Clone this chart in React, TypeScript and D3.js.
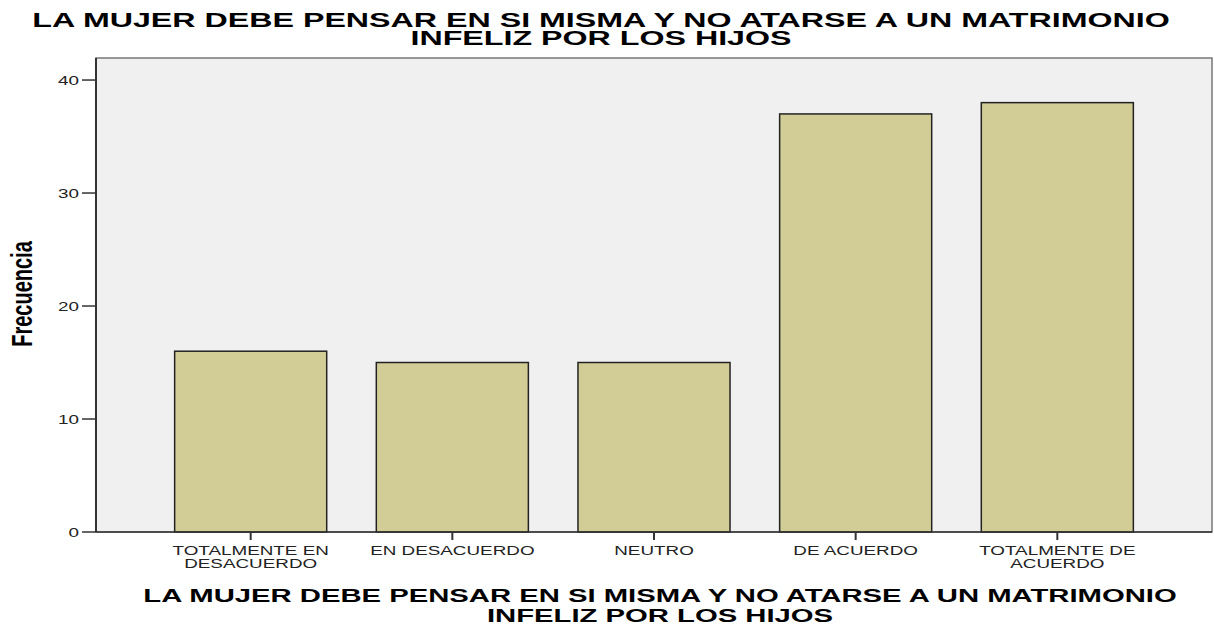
import { useEffect, useRef } from 'react';
import * as d3 from 'd3';

const categories = ['TOTALMENTE EN DESACUERDO', 'EN DESACUERDO', 'NEUTRO', 'DE ACUERDO', 'TOTALMENTE DE ACUERDO'];
const labelLines = [['TOTALMENTE EN', 'DESACUERDO'], ['EN DESACUERDO'], ['NEUTRO'], ['DE ACUERDO'], ['TOTALMENTE DE', 'ACUERDO']];
const counts = [16, 15, 15, 37, 38];
const yTicks = [0, 10, 20, 30, 40];
const titleLines = ['LA MUJER DEBE PENSAR EN SI MISMA Y NO ATARSE A UN MATRIMONIO', 'INFELIZ POR LOS HIJOS'];
const yTitle = 'Frecuencia';

const FONT = "'Liberation Sans', Arial, sans-serif";
const SX = 1.45; // the source image is stretched horizontally

const App = () => {
    const ref = useRef<SVGSVGElement>(null);

    useEffect(() => {
        const svg = d3.select(ref.current);
        svg.selectAll('*').remove();

        const left = 96, right = 1212, top = 58, bottom = 532;

        const x = d3.scaleBand<string>()
            .domain(categories)
            .range([left, right])
            .paddingInner(0.246)
            .paddingOuter(0.39);

        const y = d3.scaleLinear().domain([0, 41.95]).range([bottom, top]);

        // plot background + frame
        svg.append('rect')
            .attr('x', left).attr('y', top)
            .attr('width', right - left).attr('height', bottom - top)
            .attr('fill', '#f0f0f0')
            .attr('stroke', '#777').attr('stroke-width', 1.5);

        // bars
        svg.selectAll('.bar')
            .data(counts)
            .enter()
            .append('rect')
            .attr('x', (_d, i) => x(categories[i])!)
            .attr('width', x.bandwidth())
            .attr('y', d => y(d))
            .attr('height', d => bottom - y(d))
            .attr('fill', '#d2cd96')
            .attr('stroke', '#222')
            .attr('stroke-width', 1.5);

        // axis lines
        svg.append('line')
            .attr('x1', left).attr('x2', left).attr('y1', top).attr('y2', bottom)
            .attr('stroke', '#333').attr('stroke-width', 2);
        svg.append('line')
            .attr('x1', left).attr('x2', right).attr('y1', bottom).attr('y2', bottom)
            .attr('stroke', '#333').attr('stroke-width', 1.5);

        // y ticks
        const yt = svg.append('g');
        yTicks.forEach(t => {
            yt.append('line')
                .attr('x1', left - 14).attr('x2', left).attr('y1', y(t)).attr('y2', y(t))
                .attr('stroke', '#333').attr('stroke-width', 1.5);
            yt.append('text')
                .attr('transform', `translate(${left - 17},${y(t) + 4.5}) scale(${SX},1)`)
                .attr('text-anchor', 'end')
                .attr('font-family', FONT)
                .attr('font-size', 13)
                .attr('fill', '#222')
                .text(t);
        });

        // x ticks
        const xt = svg.append('g');
        categories.forEach((c, i) => {
            const cx = x(c)! + x.bandwidth() / 2;
            xt.append('line')
                .attr('x1', cx).attr('x2', cx).attr('y1', bottom).attr('y2', bottom + 8)
                .attr('stroke', '#333').attr('stroke-width', 2);
            labelLines[i].forEach((ln, j) => {
                xt.append('text')
                    .attr('transform', `translate(${cx},${555 + j * 13}) scale(${SX},1)`)
                    .attr('text-anchor', 'middle')
                    .attr('font-family', FONT)
                    .attr('font-size', 13)
                    .attr('fill', '#222')
                    .text(ln);
            });
        });

        // top title
        const tt = svg.append('g');
        titleLines.forEach((ln, j) => {
            tt.append('text')
                .attr('transform', `translate(601,${27 + j * 18}) scale(1.61,1)`)
                .attr('text-anchor', 'middle')
                .attr('font-family', FONT)
                .attr('font-weight', 'bold')
                .attr('font-size', 20)
                .attr('fill', '#000')
                .text(ln);
        });

        // x axis title
        titleLines.forEach((ln, j) => {
            tt.append('text')
                .attr('transform', `translate(660,${601.5 + j * 20}) scale(1.54,1)`)
                .attr('text-anchor', 'middle')
                .attr('font-family', FONT)
                .attr('font-weight', 'bold')
                .attr('font-size', 19)
                .attr('fill', '#000')
                .text(ln);
        });

        // y axis title
        svg.append('text')
            .attr('transform', `translate(32,294) scale(${SX},1) rotate(-90)`)
            .attr('text-anchor', 'middle')
            .attr('font-family', FONT)
            .attr('font-weight', 'bold')
            .attr('font-size', 20)
            .attr('fill', '#000')
            .text(yTitle);
    }, []);

    return (
        <svg ref={ref} width={1214} height={624} style={{ position: 'absolute', left: 0, top: 0, background: '#fff' }} />
    );
};

export default App;
